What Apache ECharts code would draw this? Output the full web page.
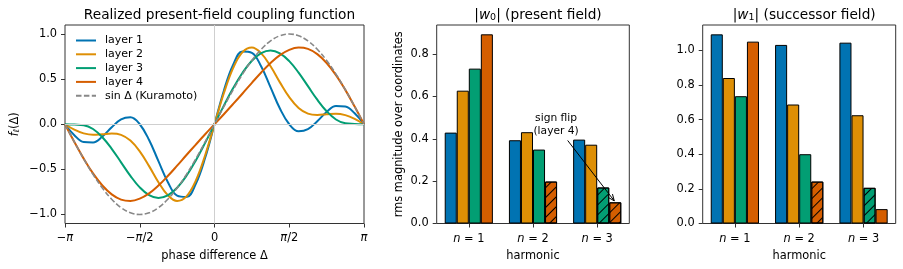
<!DOCTYPE html>
<html>
<head>
<meta charset="utf-8">
<script src="https://cdn.jsdelivr.net/npm/echarts@6/dist/echarts.min.js"></script>
<style>
  html, body { margin: 0; padding: 0; background: #fff; }
  #main { width: 903px; height: 269px; }
</style>
</head>
<body>
<div id="main"></div>
<script>
// phase difference, in units of pi
const phase = [-1, -0.9375, -0.875, -0.8125, -0.75, -0.6875, -0.625, -0.5625, -0.5, -0.4375, -0.375, -0.3125, -0.25, -0.1875, -0.125, -0.0625,
  0, 0.0625, 0.125, 0.1875, 0.25, 0.3125, 0.375, 0.4375, 0.5, 0.5625, 0.625, 0.6875, 0.75, 0.8125, 0.875, 0.9375, 1]
const layer1 = [0, -0.121, -0.197, -0.201, -0.136, -0.034, 0.054, 0.077, 0, -0.174, -0.409, -0.640, -0.792, -0.807, -0.660, -0.372,
  0, 0.372, 0.660, 0.807, 0.792, 0.640, 0.409, 0.174, 0, -0.077, -0.054, 0.034, 0.136, 0.201, 0.197, 0.121, 0]
const layer2 = [0, -0.060, -0.101, -0.117, -0.111, -0.103, -0.118, -0.181, -0.300, -0.464, -0.642, -0.786, -0.851, -0.800, -0.625, -0.343,
  0, 0.343, 0.625, 0.800, 0.851, 0.786, 0.642, 0.464, 0.300, 0.181, 0.118, 0.103, 0.111, 0.117, 0.101, 0.060, 0]
const layer3 = [0, -0.004, -0.010, -0.053, -0.144, -0.272, -0.422, -0.572, -0.700, -0.786, -0.818, -0.789, -0.704, -0.571, -0.401, -0.206,
  0, 0.206, 0.401, 0.571, 0.704, 0.789, 0.818, 0.786, 0.700, 0.572, 0.422, 0.272, 0.144, 0.053, 0.010, 0.004, 0]
const layer4 = [0, -0.196, -0.381, -0.545, -0.679, -0.777, -0.835, -0.850, -0.825, -0.766, -0.679, -0.574, -0.459, -0.341, -0.225, -0.111,
  0, 0.111, 0.225, 0.341, 0.459, 0.574, 0.679, 0.766, 0.825, 0.850, 0.835, 0.777, 0.679, 0.545, 0.381, 0.196, 0]
const kuramoto = [0, -0.195, -0.383, -0.556, -0.707, -0.831, -0.924, -0.981, -1, -0.981, -0.924, -0.831, -0.707, -0.556, -0.383, -0.195,
  0, 0.195, 0.383, 0.556, 0.707, 0.831, 0.924, 0.981, 1, 0.981, 0.924, 0.831, 0.707, 0.556, 0.383, 0.195, 0]

const harmonics = [1, 2, 3]
// |w0| present field, one array per layer over n = 1, 2, 3
const w0Layer1 = [0.429, 0.393, 0.396]
const w0Layer2 = [0.627, 0.431, 0.372]
const w0Layer3 = [0.731, 0.349, 0.170]
const w0Layer4 = [0.893, 0.198, 0.100]
// |w1| successor field
const w1Layer1 = [1.092, 1.031, 1.044]
const w1Layer2 = [0.840, 0.687, 0.625]
const w1Layer3 = [0.735, 0.400, 0.206]
const w1Layer4 = [1.050, 0.242, 0.083]
// negative sign (drawn hatched)
const w0Flip = [[0, 0, 0], [0, 0, 0], [0, 0, 1], [0, 1, 1]]
const w1Flip = [[0, 0, 0], [0, 0, 0], [0, 0, 1], [0, 1, 0]]

const layerNames = ['layer 1', 'layer 2', 'layer 3', 'layer 4']
const sinName = 'sin \u0394 (Kuramoto)'
const colors = ['#0173B2', '#DE8F05', '#029E73', '#D55E00']
const font = 'DejaVu Sans'
const frame = '#333'

const chart = echarts.init(document.getElementById('main'), null, { renderer: 'canvas' })

// "//" hatch for negative coefficients
const hatch = {
  symbol: 'rect',
  symbolSize: 1,
  dashArrayX: [1, 0],
  dashArrayY: [1, 6],
  rotation: -Math.PI / 4,
  color: '#000',
  backgroundColor: null
}

const tickLabel = { fontSize: 11.4, fontFamily: font, color: '#000' }
const rich = {
  it: { fontStyle: 'italic', fontSize: 11.4, fontFamily: font, color: '#000' },
  sub: { fontStyle: 'italic', fontSize: 8, fontFamily: font, color: '#000', verticalAlign: 'bottom', padding: [4, 0, 0, 0] },
  sub0: { fontSize: 9.5, fontFamily: font, color: '#000', verticalAlign: 'bottom', padding: [5, 0, 0, 0] },
  itT: { fontStyle: 'italic', fontSize: 13.7, fontFamily: font, color: '#000' }
}
const fmtNum = v => v.toFixed(1).replace('-', '\u2212')
const noLine = { show: false, onZero: false }

function barY (idx, max, ticks) {
  return {
    type: 'value', gridIndex: idx, min: 0, max: max,
    axisLine: noLine,
    splitLine: { show: false },
    axisTick: { show: true, length: 4, customValues: ticks, lineStyle: { color: frame } },
    axisLabel: { customValues: ticks, formatter: fmtNum, margin: 8, ...tickLabel }
  }
}
function barX (idx) {
  return {
    type: 'category', gridIndex: idx, data: harmonics,
    name: 'harmonic', nameLocation: 'middle', nameGap: 27,
    nameTextStyle: { fontSize: 11.4, fontFamily: font, color: '#000' },
    axisLine: noLine,
    axisTick: { show: true, length: 4, alignWithLabel: true, interval: 0, lineStyle: { color: frame } },
    axisLabel: { margin: 10, interval: 0, hideOverlap: false, formatter: v => '{it|n} = ' + v, rich: rich, ...tickLabel }
  }
}
function barSeries (gridIdx, values, flips, i) {
  return {
    type: 'bar', name: 'w' + gridIdx + ' ' + layerNames[i],
    xAxisIndex: gridIdx, yAxisIndex: gridIdx,
    barGap: '0%', barCategoryGap: '25%',
    itemStyle: { color: colors[i], borderColor: '#000', borderWidth: 1 },
    emphasis: { disabled: true },
    data: values.map((v, j) => flips[i][j] ? { value: v, itemStyle: { decal: hatch } } : v)
  }
}

const lineSets = [layer1, layer2, layer3, layer4]
const series = [{
  // light reference lines at zero, behind the curves
  type: 'line', name: 'zero', xAxisIndex: 0, yAxisIndex: 0, z: 1,
  symbol: 'none', data: [],
  markLine: {
    silent: true, symbol: 'none', animation: false, label: { show: false },
    lineStyle: { color: '#cfcfcf', width: 1, type: 'solid' },
    emphasis: { disabled: true },
    data: [{ xAxis: 0 }, { yAxis: 0 }]
  }
}]
lineSets.forEach((arr, i) => {
  series.push({
    type: 'line', name: layerNames[i], xAxisIndex: 0, yAxisIndex: 0,
    symbol: 'none', smooth: 0.4, z: 2,
    lineStyle: { color: colors[i], width: 2 },
    itemStyle: { color: colors[i] },
    data: phase.map((x, k) => [x, arr[k]])
  })
})
series.push({
  type: 'line', name: sinName, xAxisIndex: 0, yAxisIndex: 0,
  symbol: 'none', smooth: 0.4, z: 3,
  lineStyle: { color: '#888', width: 1.6, type: [5.5, 2.4] },
  itemStyle: { color: '#888' },
  data: phase.map((x, k) => [x, kuramoto[k]])
})
const w0 = [w0Layer1, w0Layer2, w0Layer3, w0Layer4]
const w1 = [w1Layer1, w1Layer2, w1Layer3, w1Layer4]
w0.forEach((arr, i) => series.push(barSeries(1, arr, w0Flip, i)))
w1.forEach((arr, i) => series.push(barSeries(2, arr, w1Flip, i)))

const piLabels = { '-1': '\u2212{p|\u03c0}', '-0.5': '\u2212{p|\u03c0}/2', '0': '0', '0.5': '{p|\u03c0}/2', '1': '{p|\u03c0}' }
const solidIcon = 'path://M0,0h20v2h-20z'
const dashIcon = 'path://M0,0h5.5v2h-5.5z M7.9,0h5.5v2h-5.5z M15.8,0h4.2v2h-4.2z'

chart.setOption({
  animation: false,
  title: [
    { text: 'Realized present-field coupling function', left: 214.5, top: 3, textAlign: 'center',
      textStyle: { fontSize: 13.7, fontWeight: 'normal', fontFamily: font, color: '#000' } },
    { text: '|{itT|w}{sub0|0}| (present field)', left: 533, top: 3, textAlign: 'center',
      textStyle: { fontSize: 13.7, fontWeight: 'normal', fontFamily: font, color: '#000', rich: rich } },
    { text: '|{itT|w}{sub0|1}| (successor field)', left: 799.2, top: 3, textAlign: 'center',
      textStyle: { fontSize: 13.7, fontWeight: 'normal', fontFamily: font, color: '#000', rich: rich } }
  ],
  legend: {
    data: layerNames.map(n => ({ name: n, icon: solidIcon })).concat([{ name: sinName, icon: dashIcon }]),
    orient: 'vertical', left: 71, top: 30,
    itemWidth: 20, itemHeight: 2, itemGap: 2.8,
    selectedMode: false,
    textStyle: { fontSize: 11, lineHeight: 11, fontFamily: font, color: '#000', padding: [0, 0, 0, 4] }
  },
  grid: [
    { left: 65, top: 25, width: 299, height: 198.5, show: true, borderColor: frame, borderWidth: 1, containLabel: false },
    { left: 436.7, top: 25, width: 192.6, height: 198.5, show: true, borderColor: frame, borderWidth: 1, containLabel: false },
    { left: 702.7, top: 25, width: 193, height: 198.5, show: true, borderColor: frame, borderWidth: 1, containLabel: false }
  ],
  xAxis: [
    {
      type: 'value', gridIndex: 0, min: -1, max: 1, interval: 0.5,
      name: 'phase difference \u0394', nameLocation: 'middle', nameGap: 27,
      nameTextStyle: { fontSize: 11.4, fontFamily: font, color: '#000' },
      axisLine: noLine, splitLine: { show: false },
      axisTick: { show: true, length: 4, lineStyle: { color: frame } },
      axisLabel: { margin: 9, formatter: v => piLabels[String(v)], rich: { p: { fontStyle: 'italic', fontSize: 11.4, fontFamily: font, color: '#000' } }, ...tickLabel }
    },
    barX(1),
    barX(2)
  ],
  yAxis: [
    {
      type: 'value', gridIndex: 0, min: -1.1, max: 1.1,
      name: '{it|f}{sub|\u2113}(\u0394)', nameLocation: 'middle', nameRotate: 90, nameGap: 44,
      nameTextStyle: { fontSize: 11.4, fontFamily: font, color: '#000', rich: rich },
      axisLine: noLine, splitLine: { show: false },
      axisTick: { show: true, length: 4, customValues: [-1, -0.5, 0, 0.5, 1], lineStyle: { color: frame } },
      axisLabel: { customValues: [-1, -0.5, 0, 0.5, 1], formatter: fmtNum, margin: 8, ...tickLabel }
    },
    Object.assign(barY(1, 0.937, [0, 0.2, 0.4, 0.6, 0.8]), {
      name: 'rms magnitude over coordinates', nameLocation: 'middle', nameRotate: 90, nameGap: 32,
      nameTextStyle: { fontSize: 11.4, fontFamily: font, color: '#000' }
    }),
    barY(2, 1.146, [0, 0.2, 0.4, 0.6, 0.8, 1.0])
  ],
  series: series
})

// annotation: "sign flip (layer 4)" with an arrow to the n = 3, layer 4 bar
const c2 = chart.convertToPixel({ xAxisIndex: 1, yAxisIndex: 1 }, [1, 0])
const c3 = chart.convertToPixel({ xAxisIndex: 1, yAxisIndex: 1 }, [2, 0.107])
const band = c3[0] - c2[0]
const barW = band * 0.75 / 4
const end = [c3[0] + 1.5 * barW - 1, c3[1]]
const start = [c3[0] - 0.46 * band, chart.convertToPixel({ yAxisIndex: 1 }, 0.392)]
const textPos = [c3[0] - 0.64 * band, chart.convertToPixel({ yAxisIndex: 1 }, 0.468)]
const ang = Math.atan2(end[1] - start[1], end[0] - start[0])
const headLen = 7
const head = [-0.4, 0.4].map(d => [end[0] - headLen * Math.cos(ang + d), end[1] - headLen * Math.sin(ang + d)])

chart.setOption({
  graphic: [
    { type: 'line', silent: true, z: 100, shape: { x1: start[0], y1: start[1], x2: end[0], y2: end[1] }, style: { stroke: '#000', lineWidth: 1 } },
    { type: 'polyline', silent: true, z: 100, shape: { points: [head[0], end, head[1]] }, style: { stroke: '#000', lineWidth: 1, fill: null } },
    { type: 'text', silent: true, z: 100, x: textPos[0], y: textPos[1],
      style: { text: 'sign flip\n(layer 4)', align: 'center', verticalAlign: 'middle', fontSize: 10.7, fontFamily: font, lineHeight: 13, fill: '#000' } }
  ]
})
</script>
</body>
</html>
